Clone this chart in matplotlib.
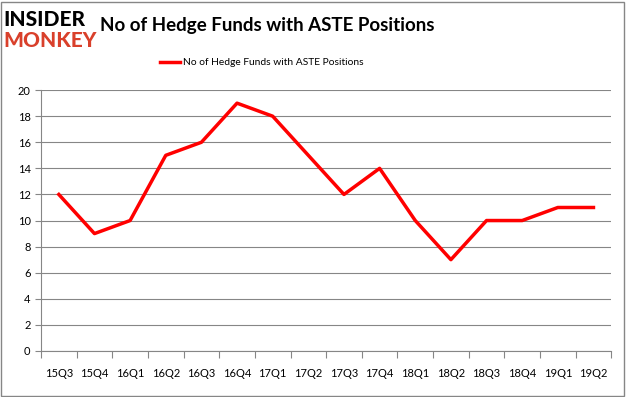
import matplotlib
matplotlib.use("Agg")
import matplotlib.pyplot as plt
from matplotlib.patches import Rectangle

# quarters and hedge fund counts
quarters = ['15Q3', '15Q4', '16Q1', '16Q2', '16Q3', '16Q4', '17Q1', '17Q2',
            '17Q3', '17Q4', '18Q1', '18Q2', '18Q3', '18Q4', '19Q1', '19Q2']
funds = [12, 9, 10, 15, 16, 19, 18, 15, 12, 14, 10, 7, 10, 10, 11, 11]
yticks = list(range(0, 21, 2))

plt.rcParams['font.family'] = 'Lato'

fig = plt.figure(figsize=(6.26, 3.97), dpi=100)
ax = fig.add_axes([0.0655, 0.116, 0.911, 0.657])

x = list(range(len(quarters)))
ax.plot(x, funds, color='#ff0000', linewidth=2.5,
        label='No of Hedge Funds with ASTE Positions')

ax.set_xlim(-0.5, len(quarters) - 0.5)
ax.set_ylim(0, 20)
ax.set_yticks(yticks)
ax.yaxis.grid(True, color='#868686', linewidth=0.8)
ax.set_axisbelow(True)

# x ticks sit between the categories, labels at the centers
ax.set_xticks([i - 0.5 for i in range(len(quarters) + 1)])
ax.set_xticklabels([])
ax.set_xticks(x, minor=True)
ax.set_xticklabels(quarters, minor=True)
ax.tick_params(axis='x', which='major', length=5, color='#868686', direction='out')
ax.tick_params(axis='x', which='minor', length=0, pad=12, labelsize=8)
ax.tick_params(axis='y', length=4, color='#868686', labelsize=8)

for side in ['top', 'right']:
    ax.spines[side].set_visible(False)
ax.spines['left'].set_color('#868686')
ax.spines['bottom'].set_color('#868686')

fig.text(0.16, 0.935, 'No of Hedge Funds with ASTE Positions', fontsize=13.5,
         fontweight='bold', va='center', ha='left')
fig.legend(loc='center', bbox_to_anchor=(0.418, 0.842), frameon=False,
           fontsize=7.4, handlelength=1.9, handletextpad=0.3)

# logo
fig.text(0.006, 0.952, 'INSIDER', fontsize=15, fontweight='black',
         color='black', va='center', ha='left')
fig.text(0.006, 0.898, 'MONKEY', fontsize=15, fontweight='black',
         color='#d9402b', va='center', ha='left')

# outer border
fig.patches.append(Rectangle((0.002, 0.003), 0.995, 0.993, transform=fig.transFigure,
                             fill=False, edgecolor='#868686', linewidth=1))

fig.savefig('out.png', dpi=100)
